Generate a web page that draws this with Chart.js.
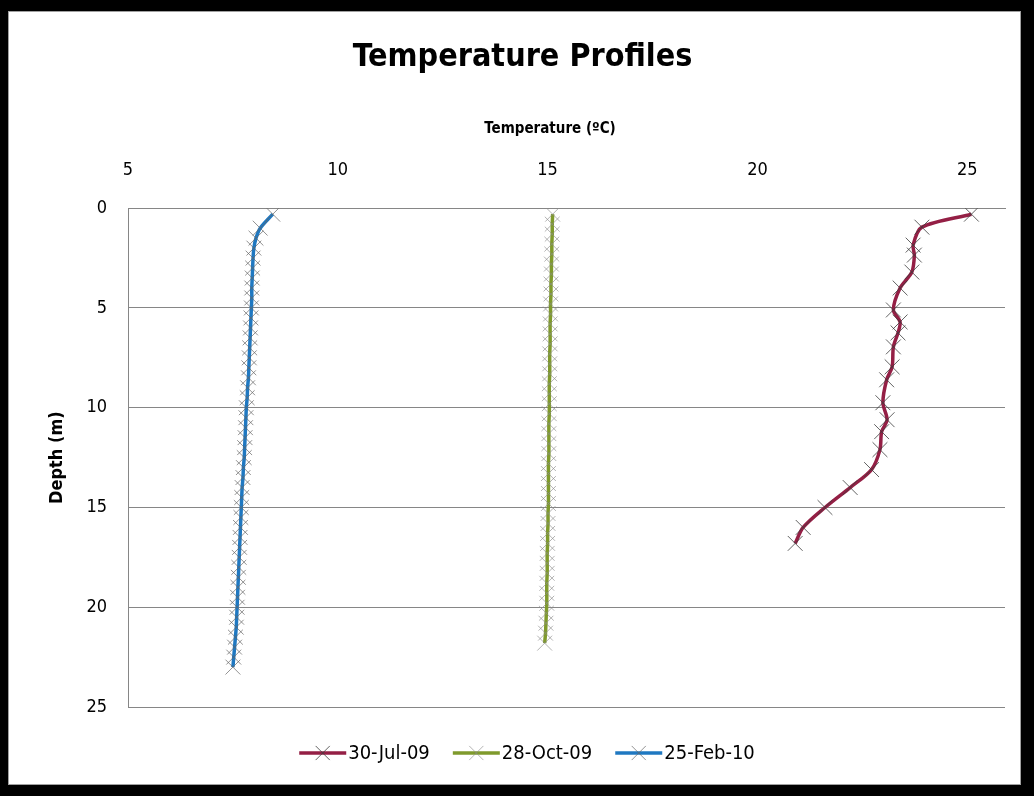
<!DOCTYPE html>
<html>
<head>
<meta charset="utf-8">
<script src="https://cdn.jsdelivr.net/npm/chart.js@4.4.1/dist/chart.umd.min.js"></script>
<style>
  html, body { margin: 0; padding: 0; background: #000; }
  #frame { position: absolute; left: 8px; top: 11px; width: 1013px; height: 774px; background: #fff; border: 1px solid #a0a0a0; box-sizing: border-box; }
  #c { position: absolute; left: 0; top: 0; }
</style>
</head>
<body>
<div id="frame"></div>
<canvas id="c" width="1034" height="796"></canvas>
<script>
const FONT = "'DejaVu Sans Condensed', 'Liberation Sans Narrow', Lato, sans-serif";
const GRID = '#868686';

const seriesLabels = ['30-Jul-09', '28-Oct-09', '25-Feb-10'];
const tempTicks  = [5, 10, 15, 20, 25];
const depthTicks = [0, 5, 10, 15, 20, 25];

// 30-Jul-09
const julDepth = [0.3, 0.95, 1.85, 2.35, 3.2, 4.0, 5.1, 5.7, 6.25, 6.95, 7.95, 8.6, 9.75, 10.6, 11.2, 12.1, 13.1, 14.0, 15.0, 16.0, 16.8];
const julTemp  = [25.1, 23.92, 23.71, 23.74, 23.68, 23.4, 23.24, 23.4, 23.35, 23.24, 23.21, 23.08, 22.99, 23.09, 22.96, 22.92, 22.72, 22.21, 21.61, 21.09, 20.9];

// 28-Oct-09
const octDepth = [0.3, 0.8, 1.3, 1.8, 2.3, 2.8, 3.3, 3.8, 4.3, 4.8, 5.3, 5.8, 6.3, 6.8, 7.3, 7.8, 8.3, 8.8, 9.3, 9.8, 10.3, 10.8,
                  11.3, 11.8, 12.3, 12.8, 13.3, 13.8, 14.3, 14.8, 15.3, 15.8, 16.3, 16.8, 17.3, 17.8, 18.3, 18.8, 19.3, 19.8, 20.3, 20.8, 21.3, 21.8];
const octTemp  = [15.12, 15.11, 15.11, 15.1, 15.1, 15.09, 15.09, 15.08, 15.08, 15.07, 15.07, 15.06, 15.06, 15.06, 15.05, 15.05, 15.05, 15.04, 15.04, 15.04, 15.04, 15.03,
                  15.03, 15.03, 15.03, 15.02, 15.02, 15.02, 15.02, 15.02, 15.01, 15.01, 15.0, 15.0, 14.99, 14.99, 14.99, 14.98, 14.98, 14.98, 14.97, 14.96, 14.95, 14.93];

// 25-Feb-10
const febDepth = [0.3, 1.0, 1.5, 2.0, 2.5, 3.0, 3.5, 4.0, 4.5, 5.0, 5.5, 6.0, 6.5, 7.0, 7.5, 8.0, 8.5, 9.0, 9.5, 10.0, 10.5, 11.0, 11.5,
                  12.0, 12.5, 13.0, 13.5, 14.0, 14.5, 15.0, 15.5, 16.0, 16.5, 17.0, 17.5, 18.0, 18.5, 19.0, 19.5, 20.0, 20.5, 21.0, 21.5, 22.0, 22.5, 23.0];
const febTemp  = [8.45, 8.15, 8.05, 8.0, 7.98, 7.97, 7.96, 7.95, 7.95, 7.94, 7.93, 7.92, 7.91, 7.9, 7.89, 7.88, 7.87, 7.85, 7.84, 7.82, 7.81, 7.8, 7.79,
                  7.78, 7.77, 7.75, 7.74, 7.72, 7.71, 7.7, 7.69, 7.68, 7.67, 7.66, 7.65, 7.64, 7.63, 7.62, 7.61, 7.6, 7.59, 7.58, 7.56, 7.54, 7.52, 7.5];

function pts(temps, depths) {
    return temps.map((t, i) => ({ x: t, y: depths[i] }));
}

function series(label, temps, depths, color, markColor) {
    return {
        label, data: pts(temps, depths),
        showLine: true, tension: 0.3,
        borderColor: color, backgroundColor: color, borderWidth: 3.5,
        pointStyle: 'crossRot', pointRadius: 10.5, pointBorderWidth: 1,
        pointBorderColor: markColor, pointBackgroundColor: markColor
    };
}

// line + cross legend like the Excel one
const lineLegend = {
    id: 'lineLegend',
    afterDraw(chart, args, o) {
        const ctx = chart.ctx;
        ctx.save();
        ctx.font = o.font;
        const items = chart.data.datasets.map(ds => ({ ds, w: o.lineLen + o.gap + ctx.measureText(ds.label).width }));
        const total = items.reduce((a, it) => a + it.w, 0) + o.spacing * (items.length - 1);
        let x = o.centerX - total / 2;
        const y = o.y;
        items.forEach(it => {
            ctx.strokeStyle = it.ds.borderColor;
            ctx.lineWidth = it.ds.borderWidth;
            ctx.beginPath(); ctx.moveTo(x, y); ctx.lineTo(x + o.lineLen, y); ctx.stroke();
            ctx.strokeStyle = it.ds.pointBorderColor;
            ctx.lineWidth = 1;
            Chart.helpers.drawPoint(ctx, { pointStyle: 'crossRot', radius: 10, borderWidth: 1 }, x + o.lineLen / 2, y);
            ctx.fillStyle = '#000';
            ctx.textBaseline = 'middle';
            ctx.textAlign = 'left';
            ctx.fillText(it.ds.label, x + o.lineLen + o.gap, y + 1);
            x += it.w + o.spacing;
        });
        ctx.restore();
    }
};

new Chart(document.getElementById('c'), {
    type: 'scatter',
    data: {
        datasets: [
            series(seriesLabels[0], julTemp, julDepth, '#941f45', 'rgba(60,60,60,0.8)'),
            series(seriesLabels[1], octTemp, octDepth, '#7f9a2c', 'rgba(140,140,140,0.65)'),
            series(seriesLabels[2], febTemp, febDepth, '#1f78c1', 'rgba(100,100,100,0.7)')
        ]
    },
    options: {
        responsive: false,
        animation: false,
        devicePixelRatio: 1,
        layout: { padding: { left: 40, right: 29, top: 11, bottom: 89 } },
        plugins: {
            legend: { display: false },
            tooltip: { enabled: false },
            title: {
                display: true, text: 'Temperature Profiles', color: '#000',
                font: { family: FONT, size: 32, weight: 'bold', lineHeight: 1.2 },
                padding: { top: 27, bottom: 10 }
            },
            lineLegend: { font: '20px ' + FONT, lineLen: 47, gap: 2, spacing: 23, centerX: 527, y: 753 }
        },
        scales: {
            x: {
                type: 'linear', position: 'top', min: 5, max: 25.9,
                afterBuildTicks: s => { s.ticks = tempTicks.map(v => ({ value: v })); },
                afterFit: s => { s.height = 121.8; },
                grid: { display: false, drawTicks: false },
                border: { display: true, color: GRID },
                ticks: { color: '#000', padding: 27, font: { family: FONT, size: 18 } },
                // trailing spaces nudge the title left of the plot centre, as in the original
                title: { display: true, text: 'Temperature (ºC)\u00a0\u00a0\u00a0\u00a0\u00a0\u00a0\u00a0', color: '#000', padding: { top: 34, bottom: 0 },
                         font: { family: FONT, size: 15, weight: 'bold' } }
            },
            y: {
                type: 'linear', reverse: true, min: 0, max: 25,
                afterBuildTicks: s => { s.ticks = depthTicks.map(v => ({ value: v })); },
                afterFit: s => { s.width = 88; },
                grid: { color: GRID, drawTicks: false },
                border: { display: true, color: GRID },
                ticks: { color: '#000', padding: 21, font: { family: FONT, size: 18 } },
                title: { display: true, text: 'Depth (m)', color: '#000', padding: { top: 7, bottom: 0 },
                         font: { family: FONT, size: 18, weight: 'bold' } }
            }
        }
    },
    plugins: [lineLegend]
});
</script>
</body>
</html>
